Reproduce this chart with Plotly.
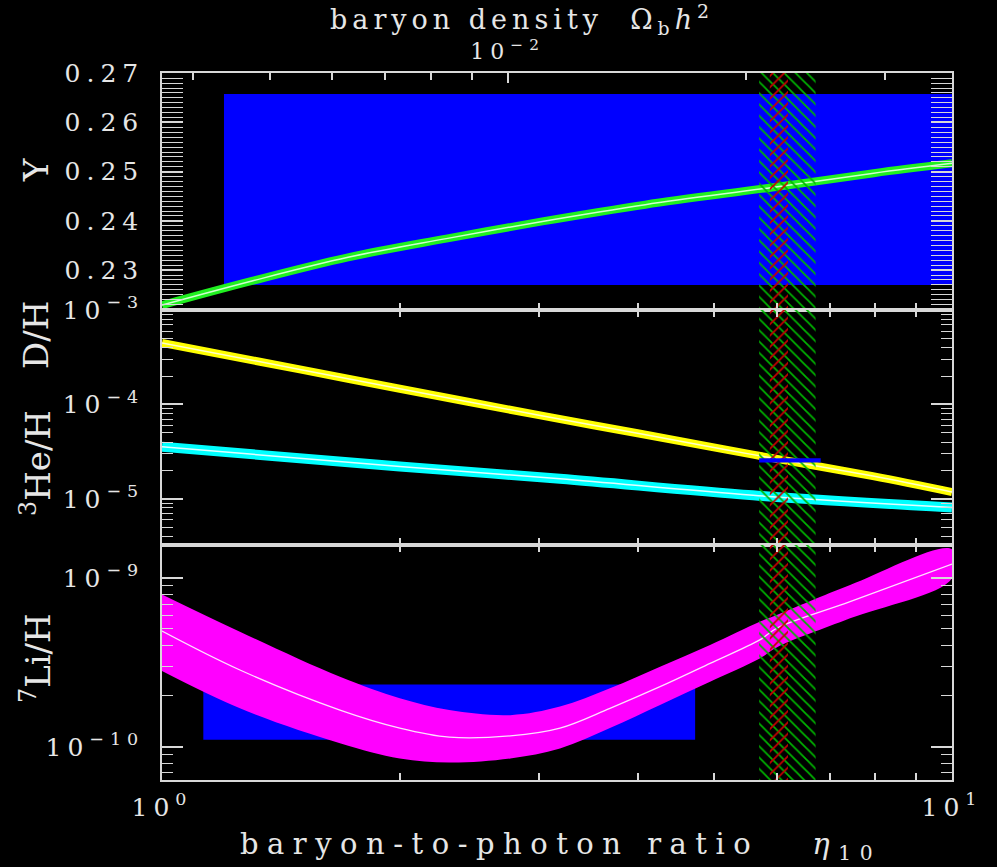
import math
import plotly.graph_objects as go

# ---------------- data ----------------
# Helium-4 mass fraction Y_p vs eta_10
eta_Y = [1.0, 1.3, 1.72, 2.29, 3.03, 4.09, 5.92, 7.96, 10.0]
Y_p = [0.2229, 0.2278, 0.2326, 0.2364, 0.2399, 0.2433, 0.2468, 0.2497, 0.2517]

# D/H vs eta_10
eta_D = [1.0, 1.5, 2.0, 3.0, 4.0, 5.6, 7.94, 10.0]
D_H = [4.5e-4, 2.34e-4, 1.47e-4, 7.7e-5, 4.95e-5, 2.94e-5, 1.74e-5, 1.18e-5]

# 3He/H vs eta_10
eta_He = [1.0, 2.0, 3.19, 5.6, 10.0]
He3_H = [3.56e-5, 2.2e-5, 1.63e-5, 1.09e-5, 8.1e-6]

# 7Li/H band vs eta_10
eta_Li = [1.0, 1.255, 1.68, 2.0, 2.31, 2.76, 3.19, 3.69, 4.27, 4.94, 5.71, 6.0, 7.43, 10.0]
Li_hi = [8.0e-10, 4.81e-10, 2.60e-10, 1.94e-10, 1.65e-10, 1.54e-10, 1.73e-10, 2.22e-10,
         2.98e-10, 4.01e-10, 5.51e-10, 6.04e-10, 9.1e-10, 1.48e-9]
Li_mid = [4.85e-10, 2.85e-10, 1.65e-10, 1.29e-10, 1.14e-10, 1.16e-10, 1.29e-10, 1.69e-10,
          2.27e-10, 3.12e-10, 4.30e-10, 5.04e-10, 7.24e-10, 1.21e-9]
Li_lo = [2.81e-10, 1.69e-10, 1.05e-10, 8.53e-11, 8.07e-11, 8.53e-11, 9.77e-11, 1.29e-10,
         1.77e-10, 2.43e-10, 3.34e-10, 3.88e-10, 5.77e-10, 9.95e-10]

# observational boxes  (eta range, abundance range)
Y_obs_eta = [1.198, 10.0]
Y_obs = [0.2270, 0.2658]
D_obs_eta = [5.70, 6.82]
D_obs = [2.42e-5, 2.69e-5]
Li_obs_eta = [1.128, 4.73]
Li_obs = [1.10e-10, 2.34e-10]

# CMB eta bands
cmb_wide = [5.70, 6.72]
cmb_narrow = [5.88, 6.20]

# tick values / labels
eta_ticks = [2, 3, 4, 5, 6, 7, 8, 9]
eta_label_ticks = [1, 10]
eta_label_text = ["10<sup>0</sup>", "10<sup>1</sup>"]
Y_ticks = [0.23, 0.24, 0.25, 0.26, 0.27]
Y_tick_text = ["0.23", "0.24", "0.25", "0.26", "0.27"]
DH_ticks = [1e-5, 1e-4, 1e-3]
DH_tick_text = ["10<sup>\u22125</sup>", "10<sup>\u22124</sup>", "10<sup>\u22123</sup>"]
Li_ticks = [1e-10, 1e-9]
Li_tick_text = ["10<sup>\u221210</sup>", "10<sup>\u22129</sup>"]
omega_major = [0.01]
omega_major_text = ["10<sup>\u22122</sup>"]
omega_minor = [0.004, 0.005, 0.006, 0.007, 0.008, 0.009, 0.02, 0.03]
eta_per_omega = 273.9  # eta_10 = 273.9 * Omega_b h^2

# ---------------- styling ----------------
AX = "#d8d8d8"
TXT = "#e6e6e6"
FONT = "DejaVu Serif"
BLUE = "#0000ff"

Y_RANGE = [0.2219, 0.27005]
DH_RANGE = [-5.49, -2.998]
LI_RANGE = [-10.197, -8.804]

def minor_log(lo_exp, hi_exp):
    vals = []
    for e in range(int(math.floor(lo_exp)), int(math.ceil(hi_exp)) + 1):
        for m in range(2, 10):
            v = m * 10.0 ** e
            if lo_exp <= math.log10(v) <= hi_exp:
                vals.append(v)
    return vals

def rect(x0, x1, y0, y1):
    return [x0, x1, x1, x0, x0], [y0, y0, y1, y1, y0]

fig = go.Figure()

def add_poly(xs, ys, xa, ya, color):
    fig.add_trace(go.Scatter(x=xs, y=ys, xaxis=xa, yaxis=ya, mode="lines",
                             fill="toself", fillcolor=color, line=dict(width=0, color=color),
                             hoverinfo="skip"))

# --- top panel: Y_p
bx, by = rect(Y_obs_eta[0], Y_obs_eta[1], Y_obs[0], Y_obs[1])
add_poly(bx, by, "x", "y", BLUE)
fig.add_trace(go.Scatter(x=eta_Y, y=Y_p, xaxis="x", yaxis="y", mode="lines",
                         line=dict(color="#20f020", width=8, shape="spline"), hoverinfo="skip"))
fig.add_trace(go.Scatter(x=eta_Y, y=Y_p, xaxis="x", yaxis="y", mode="lines",
                         line=dict(color="#d0ffd0", width=1.5, shape="spline"), hoverinfo="skip"))

# --- middle panel: D/H and 3He/H
fig.add_trace(go.Scatter(x=eta_D, y=D_H, xaxis="x2", yaxis="y2", mode="lines",
                         line=dict(color="#ffff00", width=8, shape="spline"), hoverinfo="skip"))
fig.add_trace(go.Scatter(x=eta_D, y=D_H, xaxis="x2", yaxis="y2", mode="lines",
                         line=dict(color="#ffffc8", width=1.5, shape="spline"), hoverinfo="skip"))
fig.add_trace(go.Scatter(x=eta_He, y=He3_H, xaxis="x2", yaxis="y2", mode="lines",
                         line=dict(color="#00ffff", width=10, shape="spline"), hoverinfo="skip"))
fig.add_trace(go.Scatter(x=eta_He, y=He3_H, xaxis="x2", yaxis="y2", mode="lines",
                         line=dict(color="#e0ffff", width=1.5, shape="spline"), hoverinfo="skip"))

# --- bottom panel: 7Li/H
bx, by = rect(Li_obs_eta[0], Li_obs_eta[1], Li_obs[0], Li_obs[1])
add_poly(bx, by, "x3", "y3", BLUE)
fig.add_trace(go.Scatter(x=eta_Li + eta_Li[::-1], y=Li_hi + Li_lo[::-1], xaxis="x3", yaxis="y3",
                         mode="lines", fill="toself", fillcolor="#ff00ff",
                         line=dict(width=0, color="#ff00ff", shape="spline"), hoverinfo="skip"))
fig.add_trace(go.Scatter(x=eta_Li, y=Li_mid, xaxis="x3", yaxis="y3", mode="lines",
                         line=dict(color="#ffe0ff", width=1.3, shape="spline"), hoverinfo="skip"))

# --- CMB hatched bands over all panels
panels = [("x", "y", Y_RANGE[0], Y_RANGE[1]),
          ("x2", "y2", 10 ** DH_RANGE[0], 10 ** DH_RANGE[1]),
          ("x3", "y3", 10 ** LI_RANGE[0], 10 ** LI_RANGE[1])]
for band, shape, col in [(cmb_wide, "\\", "#00b400"), (cmb_narrow, "/", "#c80000")]:
    for xa, ya, ylo, yhi in panels:
        hx, hy = rect(band[0], band[1], ylo, yhi)
        fig.add_trace(go.Scatter(x=hx, y=hy, xaxis=xa, yaxis=ya, mode="lines", fill="toself",
                                 fillcolor="rgba(0,0,0,0)", line=dict(width=0),
                                 fillpattern=dict(shape=shape, fgcolor=col, bgcolor="rgba(0,0,0,0)",
                                                  size=8, solidity=0.22, fillmode="replace"),
                                 hoverinfo="skip"))

# --- D/H observation bar (on top)
bx, by = rect(D_obs_eta[0], D_obs_eta[1], D_obs[0], D_obs[1])
add_poly(bx, by, "x2", "y2", BLUE)

# invisible anchor trace for the top Omega axis
fig.add_trace(go.Scatter(x=[omega_major[0]], y=[Y_RANGE[0]], xaxis="x4", yaxis="y", mode="markers",
                         marker=dict(opacity=0), hoverinfo="skip"))

# ---------------- axes ----------------
xminor = dict(ticks="inside", tickmode="array", tickvals=eta_ticks, ticklen=7,
              tickcolor=AX, tickwidth=1.5)
common_x = dict(type="log", range=[0, 1], ticks="inside", ticklen=7, tickwidth=1.5, tickcolor=AX,
                showline=True, linecolor=AX, linewidth=1.5, showgrid=False, zeroline=False,
                tickvals=eta_label_ticks, minor=xminor)
common_y = dict(ticks="inside", tickwidth=1.5, tickcolor=AX, ticklen=21,
                showline=True, linecolor=AX, linewidth=1.5, showgrid=False, zeroline=False,
                mirror="allticks", tickfont=dict(family=FONT, size=25, color=TXT),
                ticklabelstandoff=11)

d_top = [470 / 707, 1.0]
d_mid = [235 / 707, 470 / 707]
d_bot = [0.0, 235 / 707]

fig.update_layout(
    width=997, height=867, autosize=False,
    margin=dict(l=162, r=45, t=73, b=87),
    paper_bgcolor="black", plot_bgcolor="black", showlegend=False,
    font=dict(family=FONT, color=TXT, size=25),
    xaxis=dict(common_x, anchor="y", domain=[0, 1], showticklabels=False),
    xaxis2=dict(common_x, anchor="y2", domain=[0, 1], showticklabels=False, mirror="allticks"),
    xaxis3=dict(common_x, anchor="y3", domain=[0, 1], mirror="allticks",
                ticktext=eta_label_text,
                tickfont=dict(family=FONT, size=25, color=TXT), ticklabelstandoff=4),
    xaxis4=dict(type="log", overlaying="x", anchor="y", side="top",
                range=[math.log10(1 / eta_per_omega), math.log10(10 / eta_per_omega)],
                tickvals=omega_major, ticktext=omega_major_text, ticks="inside", ticklen=10,
                tickwidth=1.5, tickcolor=AX, showline=True, linecolor=AX, linewidth=1.5,
                minor=dict(ticks="inside", tickmode="array", tickvals=omega_minor, ticklen=7,
                           tickcolor=AX, tickwidth=1.5),
                showgrid=False, zeroline=False, tickfont=dict(family=FONT, size=22, color=TXT),
                ticklabelstandoff=3),
    yaxis=dict(common_y, anchor="x", domain=d_top, range=Y_RANGE,
               tickvals=Y_ticks, ticktext=Y_tick_text,
               minor=dict(ticks="inside", dtick=0.001, tick0=0.22, ticklen=11, tickcolor=AX,
                          tickwidth=1.2)),
    yaxis2=dict(common_y, anchor="x2", domain=d_mid, type="log", range=DH_RANGE,
                tickvals=DH_ticks, ticktext=DH_tick_text,
                minor=dict(ticks="inside", tickmode="array", tickvals=minor_log(*DH_RANGE),
                           ticklen=11, tickcolor=AX, tickwidth=1.2)),
    yaxis3=dict(common_y, anchor="x3", domain=d_bot, type="log", range=LI_RANGE,
                tickvals=Li_ticks, ticktext=Li_tick_text,
                minor=dict(ticks="inside", tickmode="array", tickvals=minor_log(*LI_RANGE),
                           ticklen=11, tickcolor=AX, tickwidth=1.2)),
)

def px_to_paper_y(py):
    return (780 - py) / 707

def px_to_paper_x(px):
    return (px - 162) / 790

ann = []
ann.append(dict(text="baryon density  \u03a9<sub>b</sub><i>h</i><sup>2</sup>", x=px_to_paper_x(522),
                y=px_to_paper_y(20), xref="paper", yref="paper", showarrow=False,
                font=dict(family=FONT, size=27, color=TXT), xanchor="center", yanchor="middle"))
ann.append(dict(text="baryon-to-photon ratio\u00a0\u00a0\u00a0<i>\u03b7</i><sub>10</sub>",
                x=px_to_paper_x(560), y=px_to_paper_y(846), xref="paper", yref="paper",
                showarrow=False, font=dict(family=FONT, size=29, color=TXT),
                xanchor="center", yanchor="middle"))
for txt, py in [("Y", 170), ("D/H", 335), ("<sup>3</sup>He/H", 463), ("<sup>7</sup>Li/H", 658)]:
    ann.append(dict(text=txt, x=px_to_paper_x(36), y=px_to_paper_y(py), xref="paper", yref="paper",
                    showarrow=False, textangle=-90, font=dict(family=FONT, size=34, color=TXT),
                    xanchor="center", yanchor="middle"))
fig.update_layout(annotations=ann)

post = """
(function(){
  var skip = ['Y','D/H','3He/H','7Li/H'];
  var all = Array.prototype.slice.call(document.querySelectorAll('.main-svg text'));
  all.forEach(function(t){
    var raw = (t.textContent || '').replace(/[\\u200b\\s]/g, '');
    if (raw === '') { t.parentNode && t.parentNode.removeChild(t); return; }
    var s = raw.replace(/[^A-Za-z0-9\\/]/g, '');
    if (skip.indexOf(s) >= 0) { return; }
    if (s.indexOf('baryondensity') === 0) { t.style.letterSpacing = '5px'; }
    else if (s.indexOf('baryontophoton') === 0) { t.style.letterSpacing = '8.5px'; }
    else { t.style.letterSpacing = '6px'; }
  });
})();
"""
fig.write_html("out.html", post_script=post)
